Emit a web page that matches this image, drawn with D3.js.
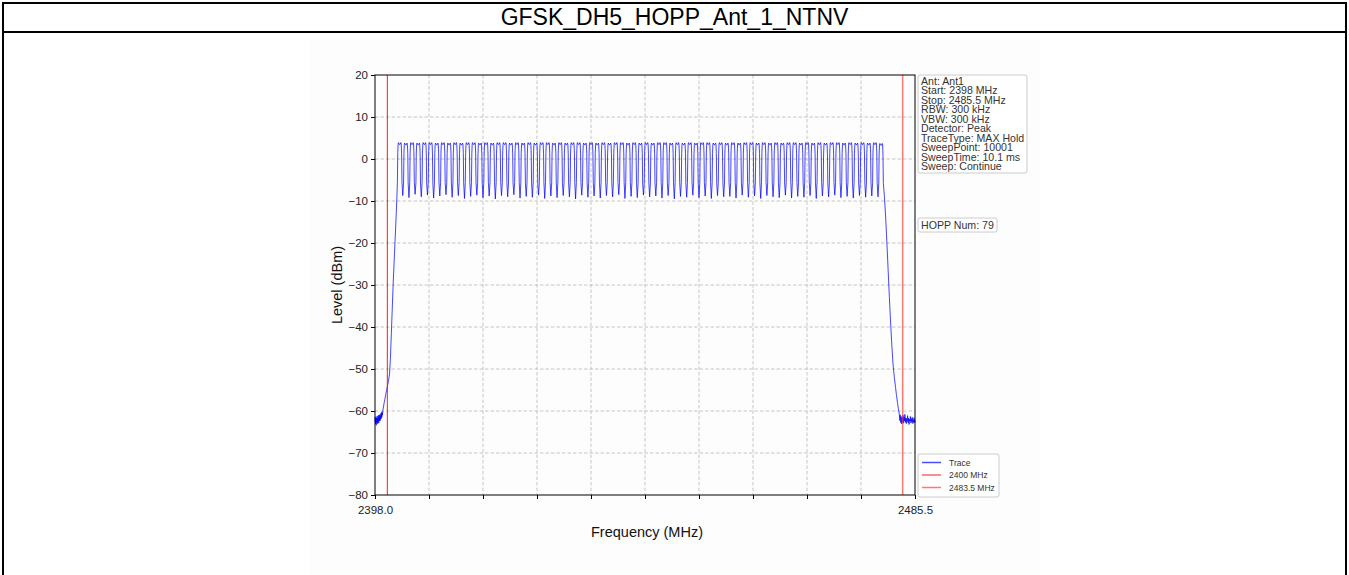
<!DOCTYPE html>
<html>
<head>
<meta charset="utf-8">
<script src="https://cdn.jsdelivr.net/npm/d3@7"></script>
<style>
  html, body { margin: 0; padding: 0; background: #fff; }
  svg { display: block; font-family: "Liberation Sans", Arial, sans-serif; }
</style>
</head>
<body>
<svg id="chart" width="1349" height="575"></svg>
<script>
// ---- data ----
const titleText = "GFSK_DH5_HOPP_Ant_1_NTNV";
const freqDomain = [2398.0, 2485.5];
const levelDomain = [-80, 20];
const yTickValues = [-80, -70, -60, -50, -40, -30, -20, -10, 0, 10, 20];
const xTickValues = [2398.0, 2406.75, 2415.5, 2424.25, 2433.0, 2441.75, 2450.5, 2459.25, 2468.0, 2476.75, 2485.5];
const xTickLabels = ["2398.0", "", "", "", "", "", "", "", "", "", "2485.5"];
const limitLinesMHz = [2400, 2483.5];

const channelsMHz = [
  2402, 2403, 2404, 2405, 2406, 2407, 2408, 2409, 2410, 2411,
  2412, 2413, 2414, 2415, 2416, 2417, 2418, 2419, 2420, 2421,
  2422, 2423, 2424, 2425, 2426, 2427, 2428, 2429, 2430, 2431,
  2432, 2433, 2434, 2435, 2436, 2437, 2438, 2439, 2440, 2441,
  2442, 2443, 2444, 2445, 2446, 2447, 2448, 2449, 2450, 2451,
  2452, 2453, 2454, 2455, 2456, 2457, 2458, 2459, 2460, 2461,
  2462, 2463, 2464, 2465, 2466, 2467, 2468, 2469, 2470, 2471,
  2472, 2473, 2474, 2475, 2476, 2477, 2478, 2479, 2480
];

// top level of each hop channel (dBm)
const peakDbm = [
  3.9, 3.8, 3.9, 3.8, 3.9, 3.9, 3.8, 3.9, 3.8, 3.9,
  3.8, 3.9, 3.9, 3.8, 3.9, 3.8, 3.9, 3.9, 3.8, 3.9,
  3.8, 3.9, 3.8, 3.9, 3.9, 3.8, 3.9, 3.8, 3.9, 3.9,
  3.8, 3.9, 3.8, 3.9, 3.8, 3.9, 3.9, 3.8, 3.9, 3.8,
  3.9, 3.8, 3.9, 3.9, 3.8, 3.9, 3.8, 3.9, 3.8, 3.9,
  3.9, 3.8, 3.9, 3.8, 3.9, 3.8, 3.9, 3.9, 3.8, 3.9,
  3.8, 3.9, 3.8, 3.9, 3.9, 3.8, 3.9, 3.8, 3.9, 3.8,
  3.9, 3.9, 3.8, 3.9, 3.8, 3.9, 3.8, 3.9, 3.7
];

// lowest level between neighbouring channels (dBm)
const dipDbm = [
  -8.7, -9.2, -8.4, -9.0, -8.6, -9.3, -8.8, -8.5, -9.1, -8.7,
  -9.4, -8.9, -8.6, -9.2, -8.8, -9.5, -8.7, -9.0, -8.5, -9.3,
  -8.9, -9.1, -8.6, -9.4, -8.8, -9.2, -8.7, -9.0, -9.5, -8.6,
  -9.1, -8.8, -9.3, -8.7, -9.0, -8.5, -9.4, -8.9, -9.2, -8.6,
  -9.0, -8.8, -9.3, -8.7, -9.5, -8.9, -9.1, -8.6, -9.2, -8.8,
  -9.4, -8.7, -9.0, -8.9, -9.3, -8.6, -9.1, -8.8, -9.4, -8.7,
  -9.0, -9.2, -8.6, -9.3, -8.9, -9.1, -8.7, -9.4, -8.8, -9.0,
  -8.6, -9.2, -8.9, -9.3, -8.7, -9.1, -8.8, -9.0
];

// shape of one occupied channel: [offset from centre in MHz, dB relative to channel top]
const channelProfile = [
  [-0.37, -9.5], [-0.31, -2.5], [-0.25, -0.3], [-0.19, 0], [-0.08, -0.4],
  [0.08, -0.4], [0.19, 0], [0.25, -0.3], [0.31, -2.5], [0.37, -9.5]
];

// band edge skirts [MHz, dBm]
const leftSkirt = [
  [2398.00, -62.5], [2398.05, -61.4], [2398.10, -63.1], [2398.15, -61.9], [2398.20, -63.4],
  [2398.25, -61.6], [2398.30, -62.8], [2398.35, -61.2], [2398.40, -63.0], [2398.45, -61.7],
  [2398.50, -62.6], [2398.55, -61.0], [2398.60, -62.9], [2398.65, -61.5], [2398.70, -62.3],
  [2398.75, -60.9], [2398.80, -62.4], [2398.85, -61.1], [2398.90, -62.0], [2398.95, -60.6],
  [2399.00, -61.8], [2399.05, -60.4], [2399.10, -61.5], [2399.15, -60.2], [2399.20, -61.0],
  [2399.30, -59.6], [2399.40, -58.8], [2399.50, -57.9], [2399.60, -57.2], [2399.75, -56.0],
  [2399.90, -54.9], [2400.05, -53.8], [2400.20, -52.7], [2400.35, -51.2], [2400.50, -47.5],
  [2400.65, -41.5], [2400.80, -35.5], [2400.95, -29.5], [2401.10, -24.5], [2401.25, -19.5],
  [2401.40, -14.5], [2401.55, -9.0]
];
const rightSkirt = [
  [2480.55, -9.0], [2480.75, -14.0], [2480.95, -20.0], [2481.15, -26.5], [2481.35, -33.0],
  [2481.55, -39.0], [2481.75, -44.5], [2481.95, -49.0], [2482.15, -52.0], [2482.35, -54.4],
  [2482.50, -56.3], [2482.65, -57.9], [2482.80, -59.4], [2482.95, -60.7], [2483.05, -62.3],
  [2483.10, -60.9], [2483.20, -62.8], [2483.25, -61.3], [2483.35, -63.1], [2483.40, -61.6],
  [2483.50, -62.6], [2483.55, -61.0], [2483.65, -62.9], [2483.70, -61.4], [2483.80, -62.4],
  [2483.85, -60.8], [2483.95, -62.7], [2484.00, -61.6], [2484.10, -63.0], [2484.15, -61.8],
  [2484.25, -62.5], [2484.30, -61.1], [2484.40, -62.8], [2484.45, -61.7], [2484.55, -63.2],
  [2484.60, -61.9], [2484.70, -62.4], [2484.75, -61.3], [2484.85, -62.9], [2484.90, -61.8],
  [2485.00, -62.6], [2485.05, -61.5], [2485.15, -63.0], [2485.20, -62.0], [2485.30, -62.7],
  [2485.35, -61.6], [2485.45, -62.8], [2485.50, -62.2]
];

const infoLines = [
  "Ant: Ant1", "Start: 2398 MHz", "Stop: 2485.5 MHz", "RBW: 300 kHz", "VBW: 300 kHz",
  "Detector: Peak", "TraceType: MAX Hold", "SweepPoint: 10001", "SweepTime: 10.1 ms", "Sweep: Continue"
];
const hoppText = "HOPP Num: 79";
const legendItems = [
  { label: "Trace", color: "#0000ff", opacity: 0.7, width: 1.5 },
  { label: "2400 MHz", color: "#ff0000", opacity: 0.9, width: 1 },
  { label: "2483.5 MHz", color: "#ff3030", opacity: 0.65, width: 1.5 }
];

// ---- layout ----
const svg = d3.select("#chart");
const W = 1349, H = 575;
const plot = { left: 375, right: 915, top: 75, bottom: 495 };

// outer frame with title row
svg.append("rect").attr("x", 309).attr("y", 40).attr("width", 731).attr("height", 535).attr("fill", "#fdfdfd");
svg.append("rect").attr("x", 3).attr("y", 3).attr("width", W - 6).attr("height", H + 10)
  .attr("fill", "none").attr("stroke", "#000").attr("stroke-width", 2);
svg.append("line").attr("x1", 3).attr("x2", W - 3).attr("y1", 32).attr("y2", 32)
  .attr("stroke", "#000").attr("stroke-width", 2);
svg.append("text").attr("x", W / 2).attr("y", 24.5).attr("text-anchor", "middle")
  .attr("font-size", 23).attr("fill", "#000").text(titleText);

const x = d3.scaleLinear().domain(freqDomain).range([plot.left, plot.right]);
const y = d3.scaleLinear().domain(levelDomain).range([plot.bottom, plot.top]);

// grid
const grid = svg.append("g").attr("stroke", "#b8b8b8").attr("stroke-width", 0.8).attr("stroke-dasharray", "3.5,2");
grid.selectAll("line.gx").data(xTickValues.slice(1, -1)).join("line")
  .attr("x1", d => x(d)).attr("x2", d => x(d)).attr("y1", plot.top).attr("y2", plot.bottom);
grid.selectAll("line.gy").data(yTickValues.slice(1, -1)).join("line")
  .attr("x1", plot.left).attr("x2", plot.right).attr("y1", d => y(d)).attr("y2", d => y(d));

// trace
const tracePoints = [...leftSkirt];
channelsMHz.forEach((c, i) => {
  if (i > 0) tracePoints.push([c - 0.5, dipDbm[i - 1]]);
  channelProfile.forEach(([off, rel]) => tracePoints.push([c + off, peakDbm[i] + rel]));
});
tracePoints.push(...rightSkirt);

const line = d3.line().x(d => x(d[0])).y(d => y(d[1]));
svg.append("path").datum(tracePoints).attr("d", line)
  .attr("fill", "none").attr("stroke", "#0000ff").attr("stroke-opacity", 0.72)
  .attr("stroke-width", 1).attr("stroke-linejoin", "round");

// limit lines
svg.selectAll("line.limit").data(limitLinesMHz).join("line")
  .attr("x1", d => x(d)).attr("x2", d => x(d)).attr("y1", plot.top).attr("y2", plot.bottom)
  .attr("stroke", (d, i) => legendItems[i + 1].color)
  .attr("stroke-opacity", (d, i) => legendItems[i + 1].opacity)
  .attr("stroke-width", (d, i) => legendItems[i + 1].width);

// axes
const xAxis = d3.axisBottom(x).tickValues(xTickValues).tickSize(4).tickSizeOuter(0)
  .tickFormat((d, i) => xTickLabels[i]);
const yAxis = d3.axisLeft(y).tickValues(yTickValues).tickSize(4).tickSizeOuter(0)
  .tickFormat(d3.format("d"));
const gx = svg.append("g").attr("transform", `translate(0,${plot.bottom})`).call(xAxis);
const gy = svg.append("g").attr("transform", `translate(${plot.left},0)`).call(yAxis);
[gx, gy].forEach(g => {
  g.select(".domain").remove();
  g.selectAll(".tick line").attr("stroke", "#000").attr("stroke-width", 1);
  g.selectAll(".tick text").attr("font-size", 11.5).attr("fill", "#222")
    .attr("font-family", "Liberation Sans, Arial, sans-serif");
});
gx.selectAll(".tick text").attr("dy", "1.0em");

// frame of the plot
svg.append("rect").attr("x", plot.left).attr("y", plot.top)
  .attr("width", plot.right - plot.left).attr("height", plot.bottom - plot.top)
  .attr("fill", "none").attr("stroke", "#000").attr("stroke-width", 1);

// axis titles
svg.append("text").attr("x", (plot.left + plot.right) / 2 + 2).attr("y", 537).attr("text-anchor", "middle")
  .attr("font-size", 14.5).attr("fill", "#111").text("Frequency (MHz)");
svg.append("text").attr("transform", `translate(342,${(plot.top + plot.bottom) / 2}) rotate(-90)`)
  .attr("text-anchor", "middle").attr("font-size", 14.5).attr("fill", "#111").text("Level (dBm)");

// info box
const info = svg.append("g").attr("transform", "translate(918,75)");
info.append("rect").attr("width", 109).attr("height", 98).attr("rx", 2)
  .attr("fill", "#fff").attr("stroke", "#cccccc").attr("stroke-width", 1);
info.selectAll("text").data(infoLines).join("text")
  .attr("x", 3).attr("y", (d, i) => 9.5 + i * 9.5)
  .attr("font-size", 10.6).attr("fill", "#333").text(d => d);

// hop count box
const hopp = svg.append("g").attr("transform", "translate(918,218)");
hopp.append("rect").attr("width", 79).attr("height", 14).attr("rx", 2)
  .attr("fill", "#fff").attr("stroke", "#cccccc").attr("stroke-width", 1);
hopp.append("text").attr("x", 3).attr("y", 10.5).attr("font-size", 10.6).attr("fill", "#333").text(hoppText);

// legend
const leg = svg.append("g").attr("transform", "translate(918,454)");
leg.append("rect").attr("width", 81).attr("height", 43).attr("rx", 2)
  .attr("fill", "#fff").attr("stroke", "#cccccc").attr("stroke-width", 1);
const li = leg.selectAll("g").data(legendItems).join("g")
  .attr("transform", (d, i) => `translate(0,${8.5 + i * 12.5})`);
li.append("line").attr("x1", 4).attr("x2", 23).attr("y1", 0).attr("y2", 0)
  .attr("stroke", d => d.color).attr("stroke-opacity", d => d.opacity).attr("stroke-width", d => d.width);
li.append("text").attr("x", 31).attr("y", 3).attr("font-size", 8.5).attr("fill", "#333").text(d => d.label);
</script>
</body>
</html>
